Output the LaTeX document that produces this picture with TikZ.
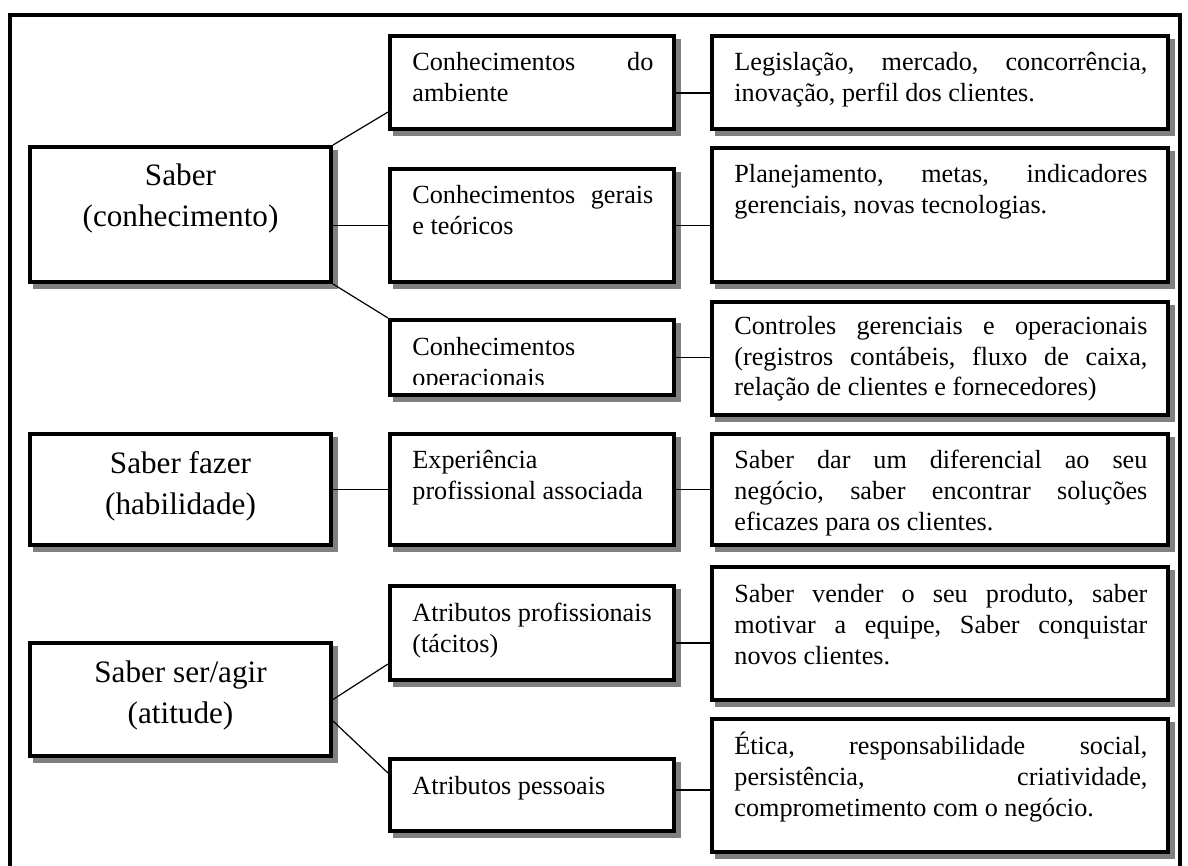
\documentclass[tikz,border=0pt]{standalone}
\usepackage{fontspec}
\setmainfont{Liberation Serif}
\usetikzlibrary{shadows}
\definecolor{shadowgray}{RGB}{128,128,128}
\begin{document}
\begin{tikzpicture}[x=0.5pt,y=-0.5pt,
  box/.style={draw, line width=2pt, fill=white, inner sep=0pt, outer sep=1pt, anchor=north west,
    general shadow={fill=shadowgray, draw=shadowgray, line width=2pt, shadow xshift=2.5pt, shadow yshift=-2.5pt}},
  smalltxt/.style={anchor=base west, inner sep=0pt, font=\fontsize{13.1pt}{15.5pt}\selectfont},
  bigtxt/.style={anchor=base, inner sep=0pt, font=\fontsize{15.6pt}{20.5pt}\selectfont},
  conn/.style={line width=0.6pt}]
\useasboundingbox (0,0) rectangle (1188,866);
\draw[line width=2pt] (10,866) -- (10,15) -- (1179.5,15) -- (1179.5,866);

% left boxes
\node[box, minimum width=150.5pt, minimum height=67.5pt] (saber) at (28,145) {};
\node[box, minimum width=150.5pt, minimum height=55.5pt] (fazer) at (28,432) {};
\node[box, minimum width=150.5pt, minimum height=56.5pt] (ser) at (28,641) {};
% middle boxes
\node[box, minimum width=142pt, minimum height=46.5pt] (amb) at (388,34) {};
\node[box, minimum width=142pt, minimum height=56.5pt] (ger) at (388,167) {};
\node[box, minimum width=142pt, minimum height=37.5pt] (oper) at (388,318) {};
\node[box, minimum width=142pt, minimum height=55.5pt] (exp) at (388,432) {};
\node[box, minimum width=142pt, minimum height=47pt] (atp) at (388,584) {};
\node[box, minimum width=142pt, minimum height=36pt] (pes) at (388,757) {};
% right boxes
\node[box, minimum width=228pt, minimum height=46.5pt] (leg) at (710,34) {};
\node[box, minimum width=228pt, minimum height=67pt] (pla) at (710,146) {};
\node[box, minimum width=228pt, minimum height=56.5pt] (con) at (710,300) {};
\node[box, minimum width=228pt, minimum height=55.5pt] (dar) at (710,432) {};
\node[box, minimum width=228pt, minimum height=66.5pt] (ven) at (710,565) {};
\node[box, minimum width=228pt, minimum height=66.5pt] (eti) at (710,717) {};

% left texts
\node[bigtxt] (tsaber) at ([yshift=-20.5pt]saber.north) {\parbox[t]{140pt}{\centering Saber\\(conhecimento)}};
\node[bigtxt] (tfazer) at ([yshift=-20.5pt]fazer.north) {\parbox[t]{140pt}{\centering Saber fazer\\(habilidade)}};
\node[bigtxt] (tser) at ([yshift=-20.5pt]ser.north) {\parbox[t]{140pt}{\centering Saber ser/agir\\(atitude)}};

% middle texts
\node[smalltxt] (tamb) at ([xshift=12pt,yshift=-18.5pt]amb.north west) {\parbox[t]{120.5pt}{Conhecimentos\hfill do\\ambiente}};
\node[smalltxt] (tger) at ([xshift=12pt,yshift=-18.5pt]ger.north west) {\parbox[t]{120.5pt}{Conhecimentos\hfill gerais\\e teóricos}};
\begin{scope}
\clip (388,318) rectangle (676,384);
\node[smalltxt] (toper) at ([xshift=12pt,yshift=-18.5pt]oper.north west) {\parbox[t]{120.5pt}{Conhecimentos\\operacionais}};
\end{scope}
\node[smalltxt] (texp) at ([xshift=12pt,yshift=-18pt]exp.north west) {\parbox[t]{120.5pt}{Experiência\\profissional associada}};
\node[smalltxt] (tatp) at ([xshift=12pt,yshift=-18.5pt]atp.north west) {\parbox[t]{120.5pt}{Atributos profissionais\\(tácitos)}};
\node[smalltxt] (tpes) at ([xshift=12pt,yshift=-18.5pt]pes.north west) {\parbox[t]{120.5pt}{Atributos pessoais}};

% right texts
\node[smalltxt] (tleg) at ([xshift=12pt,yshift=-18.5pt]leg.north west) {\parbox[t]{206.5pt}{Legislação,\hfill mercado,\hfill concorrência,\\inovação, perfil dos clientes.}};
\node[smalltxt] (tpla) at ([xshift=12pt,yshift=-18.5pt]pla.north west) {\parbox[t]{206.5pt}{Planejamento,\hfill metas,\hfill indicadores\\gerenciais, novas tecnologias.}};
\node[smalltxt] (tcon) at ([xshift=12pt,yshift=-17pt]con.north west) {\parbox[t]{206.5pt}{Controles\hfill gerenciais\hfill e\hfill operacionais\\(registros\hfill contábeis,\hfill fluxo\hfill de\hfill caixa,\\relação de clientes e fornecedores)}};
\node[smalltxt] (tdar) at ([xshift=12pt,yshift=-18pt]dar.north west) {\parbox[t]{206.5pt}{Saber\hfill dar\hfill um\hfill diferencial\hfill ao\hfill seu\\negócio,\hfill saber\hfill encontrar\hfill soluções\\eficazes para os clientes.}};
\node[smalltxt] (tven) at ([xshift=12pt,yshift=-18.5pt]ven.north west) {\parbox[t]{206.5pt}{Saber\hfill vender\hfill o\hfill seu\hfill produto,\hfill saber\\motivar\hfill a\hfill equipe,\hfill Saber\hfill conquistar\\novos clientes.}};
\node[smalltxt] (teti) at ([xshift=12pt,yshift=-18.5pt]eti.north west) {\parbox[t]{206.5pt}{Ética,\hfill responsabilidade\hfill social,\\persistência,\hfill criatividade,\\comprometimento com o negócio.}};

% connectors
\coordinate (cAmbIn) at ([yshift=9.5pt]amb.south west);
\coordinate (cAmbOut) at ([yshift=-5.25pt]amb.east);
\coordinate (cPesIn) at ([yshift=-8pt]pes.north west);
\coordinate (cSerLow) at ([yshift=18.5pt]ser.south east);
\coordinate (cAtpIn) at ([yshift=9pt]atp.south west);
\coordinate (cAtpOut) at ([yshift=-5pt]atp.east);
\coordinate (cPesOut) at ([yshift=2.5pt]pes.east);

\draw[conn] (saber.north east) -- (cAmbIn);
\draw[conn] (ger.west -| saber.east) -- (ger.west);
\draw[conn] (saber.south east) -- (oper.north west);
\draw[conn] (cAmbOut) -- (cAmbOut -| leg.west);
\draw[conn] (ger.east) -- (ger.east -| pla.west);
\draw[conn] (oper.east) -- (oper.east -| con.west);
\draw[conn] (fazer.east) -- (exp.west);
\draw[conn] (exp.east) -- (dar.west);
\draw[conn] (ser.east) -- (cAtpIn);
\draw[conn] (cSerLow) -- (cPesIn);
\draw[conn] (cAtpOut) -- (cAtpOut -| ven.west);
\draw[conn] (cPesOut) -- (cPesOut -| eti.west);
\end{tikzpicture}
\end{document}
